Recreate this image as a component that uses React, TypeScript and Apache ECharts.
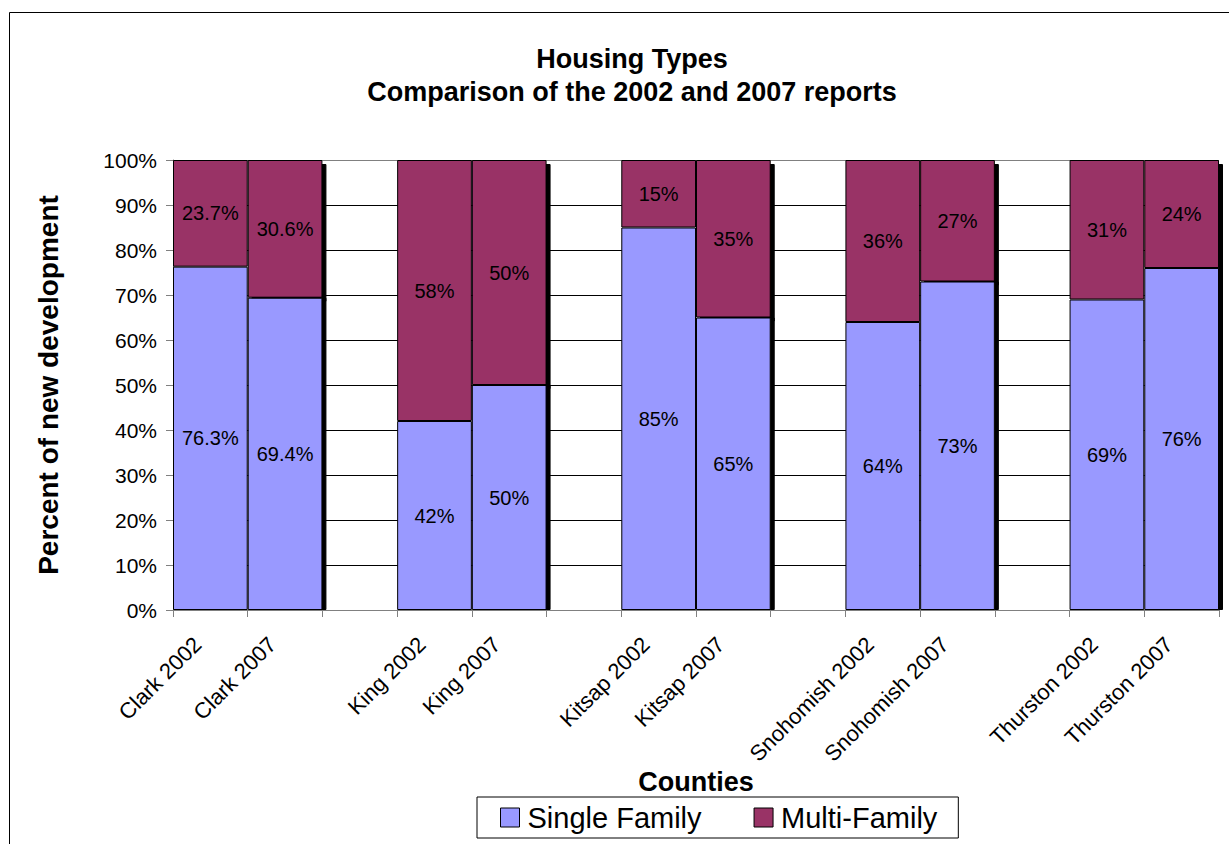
import React, { useEffect, useRef } from "react";
import * as echarts from "echarts";

// Category slots; empty strings leave a gap between counties
const categories = [
  "Clark 2002", "Clark 2007", "",
  "King 2002", "King 2007", "",
  "Kitsap 2002", "Kitsap 2007", "",
  "Snohomish 2002", "Snohomish 2007", "",
  "Thurston 2002", "Thurston 2007",
];

const singleFamily: (number | null)[] = [
  76.3, 69.4, null,
  42, 50, null,
  85, 65, null,
  64, 73, null,
  69, 76,
];

const multiFamily: (number | null)[] = [
  23.7, 30.6, null,
  58, 50, null,
  15, 35, null,
  36, 27, null,
  31, 24,
];

const yTicks = [0, 10, 20, 30, 40, 50, 60, 70, 80, 90, 100];

const FONT = "'Liberation Sans', Arial, sans-serif";

// the second bar of each pair casts a drop shadow to the right
function buildData(values: (number | null)[], offY: number) {
  return values.map((v, i) => {
    if (v === null) return "-";
    const isLast = categories[i + 1] === "" || i === categories.length - 1;
    if (!isLast) return { value: v };
    return {
      value: v,
      itemStyle: {
        shadowColor: "#000",
        shadowBlur: 0,
        shadowOffsetX: 4,
        shadowOffsetY: offY,
      },
    };
  });
}

export default function App() {
  const ref = useRef<HTMLDivElement>(null);

  useEffect(() => {
    if (!ref.current) return;
    const chart = echarts.init(ref.current, undefined, { renderer: "svg" });

    const gridColors = yTicks.map((t, i) =>
      i === 0 || i === yTicks.length - 1 ? "#808080" : "#000000"
    );

    const valueLabel = {
      show: true,
      position: "inside",
      formatter: (p: any) => p.value + "%",
      fontFamily: FONT,
      fontSize: 20,
      color: "#000",
    };

    chart.setOption({
      animation: false,
      backgroundColor: "#ffffff",
      textStyle: { fontFamily: FONT },
      title: {
        text: "Housing Types\nComparison of the 2002 and 2007 reports",
        left: 627,
        top: 37,
        textAlign: "center",
        textStyle: {
          fontFamily: FONT,
          fontWeight: "bold",
          fontSize: 27,
          lineHeight: 33,
          color: "#000",
        },
      },
      graphic: [
        {
          type: "rect",
          shape: { x: 9.5, y: 12.5, width: 1300, height: 900 },
          style: { fill: "none", stroke: "#000", lineWidth: 1 },
          silent: true,
          z: -10,
        },
      ],
      legend: {
        left: 477,
        top: 797,
        orient: "horizontal",
        itemGap: 52,
        itemWidth: 19,
        itemHeight: 19,
        icon: "rect",
        padding: [6, 21, 6, 23],
        borderColor: "#000",
        borderWidth: 1,
        textStyle: { fontFamily: FONT, fontSize: 29, color: "#000", padding: [0, 0, 0, 3] },
        itemStyle: { borderColor: "#000", borderWidth: 1 },
        data: ["Single Family", "Multi-Family"],
      },
      grid: { left: 173, right: 10, top: 160, bottom: 234, containLabel: false },
      xAxis: {
        type: "category",
        data: categories,
        boundaryGap: true,
        name: "Counties",
        nameLocation: "middle",
        nameGap: 158,
        nameMoveOverlap: false,
        nameTextStyle: { fontFamily: FONT, fontWeight: "bold", fontSize: 27, color: "#000" },
        axisLine: { show: true, lineStyle: { color: "#808080", width: 1 } },
        axisTick: { show: true, interval: 0, alignWithLabel: false, length: 7, lineStyle: { color: "#808080" } },
        axisLabel: {
          interval: 0,
          rotate: 45,
          margin: 18,
          padding: [0, 18, 0, 0],
          fontFamily: FONT,
          fontSize: 22,
          color: "#000",
        },
        splitLine: { show: false },
      },
      yAxis: {
        type: "value",
        min: 0,
        max: 100,
        interval: 10,
        name: "Percent of new development",
        nameLocation: "middle",
        nameGap: 111,
        nameRotate: 90,
        nameTextStyle: { fontFamily: FONT, fontWeight: "bold", fontSize: 28, color: "#000" },
        axisLine: { show: true, lineStyle: { color: "#808080", width: 1 } },
        axisTick: { show: true, length: 7, lineStyle: { color: "#808080" } },
        axisLabel: {
          formatter: "{value}%",
          margin: 16,
          fontFamily: FONT,
          fontSize: 21,
          color: "#000",
        },
        splitLine: { show: true, lineStyle: { color: gridColors, width: 1 } },
      },
      series: [
        {
          name: "Single Family",
          type: "bar",
          stack: "total",
          z: 3,
          barCategoryGap: 0,
          data: buildData(singleFamily, 0),
          itemStyle: { color: "#9999FF", borderColor: "#000", borderWidth: 1 },
          label: valueLabel,
        },
        {
          name: "Multi-Family",
          type: "bar",
          stack: "total",
          z: 2,
          barCategoryGap: 0,
          data: buildData(multiFamily, 4),
          itemStyle: { color: "#993366", borderColor: "#000", borderWidth: 1 },
          label: valueLabel,
        },
      ],
    });

    return () => chart.dispose();
  }, []);

  return <div ref={ref} style={{ width: 1229, height: 844, position: "absolute", left: 0, top: 0 }} />;
}
